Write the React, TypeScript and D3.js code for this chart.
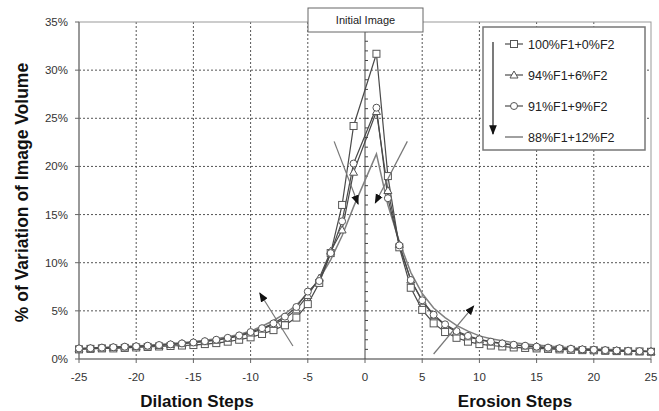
import React from 'react'
import * as d3 from 'd3'

// dilation (negative) and erosion (positive) steps, initial image at 0 has no point
const steps = [
  -25, -24, -23, -22, -21, -20, -19, -18, -17, -16, -15, -14, -13, -12, -11, -10, -9, -8, -7, -6, -5, -4, -3, -2, -1,
  1, 2, 3, 4, 5, 6, 7, 8, 9, 10, 11, 12, 13, 14, 15, 16, 17, 18, 19, 20, 21, 22, 23, 24, 25,
]

const seriesNames = ['100%F1+0%F2', '94%F1+6%F2', '91%F1+9%F2', '88%F1+12%F2']

const f1_100 = [
  1.0, 1.05, 1.1, 1.1, 1.15, 1.2, 1.25, 1.3, 1.35, 1.4, 1.45, 1.55, 1.65, 1.8, 2.0, 2.25, 2.6, 3.0, 3.5, 4.3, 5.7, 7.9, 11.0, 16.0, 24.2,
  31.7, 19.0, 11.6, 7.4, 5.1, 3.7, 2.8, 2.2, 1.8, 1.55, 1.4, 1.3, 1.2, 1.15, 1.1, 1.05, 1.0, 0.95, 0.92, 0.9, 0.85, 0.82, 0.8, 0.78, 0.75,
]
const f1_94 = [
  1.05, 1.1, 1.15, 1.2, 1.25, 1.3, 1.35, 1.4, 1.5, 1.6, 1.7, 1.8, 1.95, 2.15, 2.4, 2.7, 3.1, 3.6, 4.2, 5.1, 6.6, 8.4, 11.2, 13.4, 19.4,
  25.7, 17.5, 11.9, 8.2, 6.0, 4.5, 3.5, 2.8, 2.3, 2.0, 1.75, 1.6, 1.45, 1.35, 1.25, 1.15, 1.1, 1.05, 1.0, 0.95, 0.9, 0.87, 0.84, 0.8, 0.78,
]
const f1_91 = [
  1.1, 1.12, 1.18, 1.22, 1.28, 1.32, 1.38, 1.45, 1.52, 1.62, 1.72, 1.85, 2.0, 2.2, 2.45, 2.8, 3.2, 3.7, 4.4, 5.4, 7.0, 8.1, 11.0, 14.3, 20.3,
  26.1, 16.7, 11.8, 8.2, 6.1, 4.6, 3.6, 2.9, 2.4, 2.05, 1.8, 1.62, 1.48, 1.38, 1.28, 1.18, 1.12, 1.06, 1.0, 0.96, 0.92, 0.88, 0.85, 0.82, 0.78,
]
const f1_88 = [
  1.1, 1.15, 1.2, 1.25, 1.3, 1.35, 1.42, 1.5, 1.6, 1.7, 1.82, 1.95, 2.1, 2.3, 2.55, 2.9, 3.4, 4.0, 4.7, 5.6, 6.8, 8.3, 10.3, 12.8, 15.8,
  21.3, 16.0, 12.2, 9.0, 6.8, 5.3, 4.3, 3.5, 2.9, 2.4, 2.1, 1.9, 1.7, 1.55, 1.45, 1.35, 1.25, 1.18, 1.1, 1.05, 1.0, 0.95, 0.9, 0.85, 0.8,
]

const xTicks = [-25, -20, -15, -10, -5, 0, 5, 10, 15, 20, 25]
const yTicks = [0, 5, 10, 15, 20, 25, 30, 35]

// trend arrows [x0, y0, x1, y1] in data units, head at the second point
const arrows = [
  [-2.7, 22.6, -0.6, 16.1],
  [3.7, 22.6, 0.9, 16.2],
  [-6.3, 1.35, -9.2, 6.85],
  [6.0, 0.52, 9.5, 5.5],
]

const FONT = '"Liberation Sans", Arial, sans-serif'

const Marker = ({kind, x, y}: {kind: string, x: number, y: number}) => {
  if (kind === 'square')
    return <rect x={x - 3.5} y={y - 3.5} width={7} height={7} fill="#fff" stroke="#555" strokeWidth={1} />
  if (kind === 'triangle')
    return <path d={`M${x},${y - 4}L${x + 4},${y + 3}L${x - 4},${y + 3}Z`} fill="#fff" stroke="#555" strokeWidth={1} />
  if (kind === 'circle')
    return <circle cx={x} cy={y} r={3.5} fill="#fff" stroke="#555" strokeWidth={1} />
  return null
}

export default function App() {
  const W = 659, H = 411
  const x = d3.scaleLinear().domain([-25, 25]).range([79, 651])
  const y = d3.scaleLinear().domain([0, 35]).range([359, 22])

  const series = [
    {name: seriesNames[0], values: f1_100, kind: 'square', color: '#4a4a4a', width: 1.2},
    {name: seriesNames[1], values: f1_94, kind: 'triangle', color: '#4a4a4a', width: 1.2},
    {name: seriesNames[2], values: f1_91, kind: 'circle', color: '#4a4a4a', width: 1.2},
    {name: seriesNames[3], values: f1_88, kind: 'none', color: '#808080', width: 1.5},
  ]

  const line = d3.line<number>()
    .x((_, i) => x(steps[i]))
    .y(d => y(d))

  const minorTicks = d3.range(1, 35)

  return (
    <svg width={W} height={H} style={{position: 'absolute', left: 0, top: 0, background: '#fff'}} fontFamily={FONT}>
      <defs>
        <marker id="head" viewBox="0 0 10 10" refX="9" refY="5" markerWidth="8" markerHeight="8" orient="auto">
          <path d="M0,1L10,5L0,9Z" fill="#111" />
        </marker>
      </defs>

      {/* grid */}
      {yTicks.filter(t => t > 0 && t < 35).map(t => (
        <line key={'gy' + t} x1={x(-25)} x2={x(25)} y1={y(t)} y2={y(t)} stroke="#555" strokeDasharray="2,2" />
      ))}
      {xTicks.filter(t => t !== 0 && Math.abs(t) !== 25).map(t => (
        <line key={'gx' + t} x1={x(t)} x2={x(t)} y1={y(35)} y2={y(0)} stroke="#555" strokeDasharray="2,2" />
      ))}

      {/* plot frame */}
      <rect x={x(-25)} y={y(35)} width={x(25) - x(-25)} height={y(0) - y(35)} fill="none" stroke="#999" />
      <line x1={x(-25)} x2={x(25)} y1={y(0)} y2={y(0)} stroke="#666" />
      <line x1={x(-25)} x2={x(-25)} y1={y(35)} y2={y(0)} stroke="#666" />

      {/* initial image axis */}
      <line x1={x(0)} x2={x(0)} y1={y(35)} y2={y(0)} stroke="#444" />
      {minorTicks.map(t => (
        <line key={'mt' + t} x1={x(0)} x2={x(0) + 3} y1={y(t)} y2={y(t)} stroke="#444" />
      ))}

      {/* axis ticks */}
      {xTicks.map(t => (
        <g key={'xt' + t}>
          <line x1={x(t)} x2={x(t)} y1={y(0)} y2={y(0) + 4} stroke="#666" />
          <text x={x(t)} y={y(0) + 22} textAnchor="middle" fontSize={11.5} fill="#333">{String(t)}</text>
        </g>
      ))}
      {yTicks.map(t => (
        <g key={'yt' + t}>
          <line x1={x(-25) - 4} x2={x(-25)} y1={y(t)} y2={y(t)} stroke="#666" />
          <text x={68} y={y(t) + 4} textAnchor="end" fontSize={11.5} fill="#333">{t + '%'}</text>
        </g>
      ))}

      {/* series */}
      {series.slice().reverse().map(s => (
        <path key={'l' + s.name} d={line(s.values) || ''} fill="none" stroke={s.color} strokeWidth={s.width} />
      ))}
      {series.map(s => s.values.map((v, i) => (
        <Marker key={s.name + i} kind={s.kind} x={x(steps[i])} y={y(v)} />
      )))}

      {/* arrows */}
      {arrows.map((a, i) => (
        <line key={'ar' + i} x1={x(a[0])} y1={y(a[1])} x2={x(a[2])} y2={y(a[3])} stroke="#777" strokeWidth={1.2} markerEnd="url(#head)" />
      ))}

      {/* initial image label */}
      <rect x={308} y={8} width={115} height={24} fill="#fff" stroke="#666" />
      <text x={365.5} y={24} textAnchor="middle" fontSize={11} fill="#222">Initial Image</text>

      {/* legend */}
      <rect x={483} y={27} width={162} height={123} fill="#fff" stroke="#777" strokeWidth={1.5} />
      <line x1={493} x2={493} y1={42} y2={134} stroke="#222" strokeWidth={1.2} markerEnd="url(#head)" />
      {series.map((s, i) => {
        const ly = 44 + i * 31
        return (
          <g key={'lg' + s.name}>
            <line x1={505} x2={523} y1={ly} y2={ly} stroke={s.color} strokeWidth={s.width} />
            <Marker kind={s.kind} x={514} y={ly} />
            <text x={528} y={ly + 5} fontSize={12.5} fill="#222">{s.name}</text>
          </g>
        )
      })}

      {/* axis titles */}
      <text transform={`translate(28,${(y(0) + y(35)) / 2 + 2}) rotate(-90)`} textAnchor="middle" fontSize={17.5} fontWeight="bold" fill="#111">
        % of Variation of Image Volume
      </text>
      <text x={197} y={407} textAnchor="middle" fontSize={17} fontWeight="bold" fill="#111">Dilation Steps</text>
      <text x={515} y={407} textAnchor="middle" fontSize={17} fontWeight="bold" fill="#111">Erosion Steps</text>
    </svg>
  )
}
